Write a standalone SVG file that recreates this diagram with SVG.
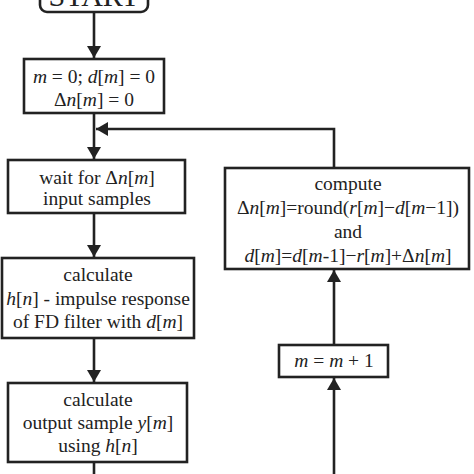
<svg xmlns="http://www.w3.org/2000/svg" width="474" height="474" viewBox="0 0 474 474">
<style>
.box{fill:#fff;stroke:#222;stroke-width:2.6}
.ln{fill:none;stroke:#222;stroke-width:2.6}
text{font-family:'Liberation Serif','DejaVu Serif',serif;font-size:19.5px;fill:#222;text-anchor:middle}
.i{font-style:italic}
</style>
<defs>
<marker id="ah" viewBox="0 0 12 14" refX="12" refY="7" markerWidth="12" markerHeight="14" markerUnits="userSpaceOnUse" orient="auto">
<path d="M0,0 L12,7 L0,14 z" fill="#222"/>
</marker>
</defs>
<g id="connectors">
<line class="ln" x1="94" y1="12" x2="94" y2="58" marker-end="url(#ah)"/>
<line class="ln" x1="94" y1="113" x2="94" y2="159" marker-end="url(#ah)"/>
<polyline class="ln" points="334,168 334,129 96,129" marker-end="url(#ah)"/>
<line class="ln" x1="94" y1="213" x2="94" y2="257" marker-end="url(#ah)"/>
<line class="ln" x1="94" y1="338" x2="94" y2="382" marker-end="url(#ah)"/>
<line class="ln" x1="94" y1="462" x2="94" y2="474"/>
<line class="ln" x1="334" y1="474" x2="334" y2="378" marker-end="url(#ah)"/>
<line class="ln" x1="334" y1="345" x2="334" y2="270" marker-end="url(#ah)"/>
</g>
<g id="start">
<rect class="box" x="40" y="-30" width="108" height="42" rx="7"/>
<text x="94" y="6" style="font-size:30px">START</text>
</g>
<g id="init">
<rect class="box" x="24" y="59" width="140" height="54"/>
<text x="94" y="83"><tspan class="i">m</tspan> = 0; <tspan class="i">d</tspan>[<tspan class="i">m</tspan>] = 0</text>
<text x="94" y="106">Δ<tspan class="i">n</tspan>[<tspan class="i">m</tspan>] = 0</text>
</g>
<g id="wait">
<rect class="box" x="8" y="160" width="177" height="53"/>
<text x="97" y="184">wait for Δ<tspan class="i">n</tspan>[<tspan class="i">m</tspan>]</text>
<text x="97" y="205">input samples</text>
</g>
<g id="calc-h">
<rect class="box" x="2" y="258" width="192" height="80"/>
<text x="98" y="281">calculate</text>
<text x="98" y="305"><tspan class="i">h</tspan>[<tspan class="i">n</tspan>] - impulse response</text>
<text x="98" y="328">of FD filter with <tspan class="i">d</tspan>[<tspan class="i">m</tspan>]</text>
</g>
<g id="calc-y">
<rect class="box" x="8" y="383" width="179" height="79"/>
<text x="98" y="406">calculate</text>
<text x="98" y="429">output sample <tspan class="i">y</tspan>[<tspan class="i">m</tspan>]</text>
<text x="98" y="452">using <tspan class="i">h</tspan>[<tspan class="i">n</tspan>]</text>
</g>
<g id="compute">
<rect class="box" x="225" y="168" width="244" height="101"/>
<text x="348" y="190">compute</text>
<text x="348" y="214">Δ<tspan class="i">n</tspan>[<tspan class="i">m</tspan>]=round(<tspan class="i">r</tspan>[<tspan class="i">m</tspan>]−<tspan class="i">d</tspan>[<tspan class="i">m</tspan>−1])</text>
<text x="348" y="238">and</text>
<text x="348" y="262"><tspan class="i">d</tspan>[<tspan class="i">m</tspan>]=<tspan class="i">d</tspan>[<tspan class="i">m</tspan>-1]−<tspan class="i">r</tspan>[<tspan class="i">m</tspan>]+Δ<tspan class="i">n</tspan>[<tspan class="i">m</tspan>]</text>
</g>
<g id="increment">
<rect class="box" x="279" y="345" width="109" height="32"/>
<text x="334" y="367"><tspan class="i">m</tspan> = <tspan class="i">m</tspan> + 1</text>
</g>
</svg>
